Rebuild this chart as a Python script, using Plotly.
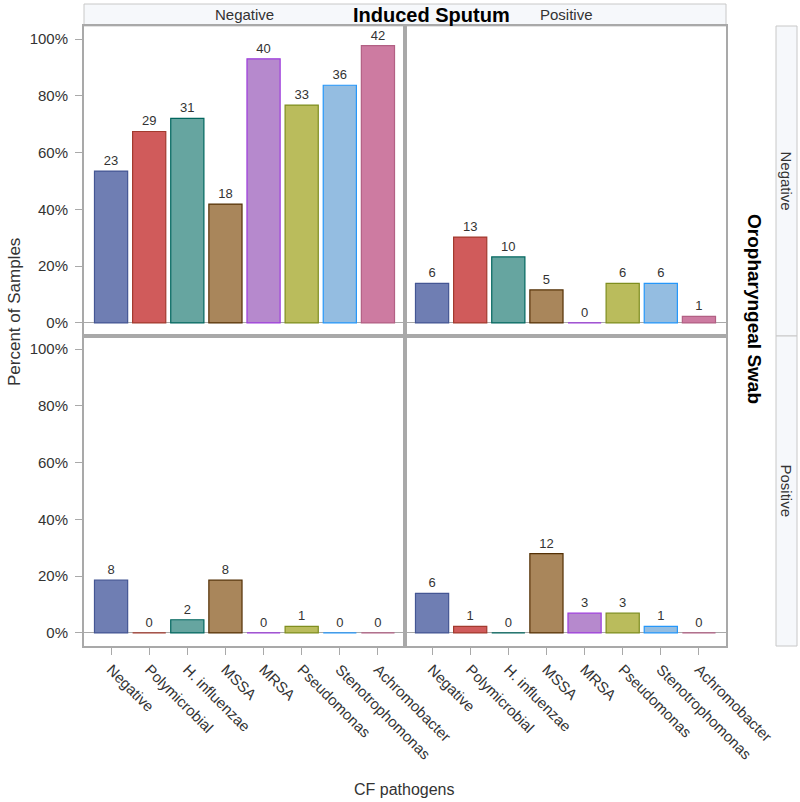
import plotly.graph_objects as go

categories = ["Negative", "Polymicrobial", "H. influenzae", "MSSA", "MRSA",
              "Pseudomonas", "Stenotrophomonas", "Achromobacter"]
# counts per panel: (Induced Sputum result, Oropharyngeal Swab result)
counts_is_neg_op_neg = [23, 29, 31, 18, 40, 33, 36, 42]
counts_is_pos_op_neg = [6, 13, 10, 5, 0, 6, 6, 1]
counts_is_neg_op_pos = [8, 0, 2, 8, 0, 1, 0, 0]
counts_is_pos_op_pos = [6, 1, 0, 12, 3, 3, 1, 0]
total_samples = 43
y_tick_values = [0, 20, 40, 60, 80, 100]
y_tick_labels = ["0%", "20%", "40%", "60%", "80%", "100%"]

fill_colors = ["#6F7EB3", "#D05B5B", "#66A5A0", "#A9865B",
               "#B689CD", "#BABC5C", "#94BDE1", "#CD7BA1"]
line_colors = ["#445694", "#A23A2E", "#01665E", "#543005",
               "#9D3CDB", "#7F8E1F", "#2597FA", "#B26084"]

FONT = "Liberation Sans, Arial, sans-serif"
fig = go.Figure()

panels = [
    (counts_is_neg_op_neg, "x", "y"),
    (counts_is_pos_op_neg, "x2", "y2"),
    (counts_is_neg_op_pos, "x3", "y3"),
    (counts_is_pos_op_pos, "x4", "y4"),
]
for cnts, xa, ya in panels:
    pct = [c / total_samples * 100 for c in cnts]
    fig.add_trace(go.Bar(
        x=categories, y=pct, xaxis=xa, yaxis=ya,
        marker=dict(color=fill_colors, line=dict(color=line_colors, width=1.2)),
        text=[str(c) for c in cnts], textposition="outside",
        textfont=dict(size=13, color="#333333", family=FONT),
        cliponaxis=False, showlegend=False, hoverinfo="skip",
    ))

W, H = 800, 802
L, R, T, B = 84, 74, 26, 156
pw = W - L - R
ph = H - T - B

def px(x):
    return (x - L) / pw

def py(y):
    return (H - B - y) / ph

axis_common = dict(showline=True, linecolor="#A9A9A9", linewidth=2, mirror=True,
                   showgrid=False)
xcommon = dict(axis_common, range=[-0.71, 7.71], ticks="outside", ticklen=7,
               tickcolor="#A9A9A9", tickangle=45,
               tickfont=dict(size=15, color="#333333", family=FONT))
ycommon = dict(axis_common, range=[-4.6, 104.6], tickmode="array",
               tickvals=y_tick_values, ticktext=y_tick_labels,
               ticks="outside", ticklen=7, tickcolor="#A9A9A9", ticklabelstandoff=4,
               zeroline=True, zerolinecolor="#A9A9A9", zerolinewidth=1,
               tickfont=dict(size=15, color="#333333", family=FONT))

fig.update_layout(
    width=W, height=H,
    margin=dict(l=L, r=R, t=T, b=B, autoexpand=False),
    plot_bgcolor="white", paper_bgcolor="white",
    bargap=0.13,
    font=dict(family=FONT, color="#333333"),
    xaxis=dict(xcommon, domain=[0, 0.5], anchor="y", showticklabels=False, ticks=""),
    xaxis2=dict(xcommon, domain=[0.5, 1], anchor="y2", showticklabels=False, ticks=""),
    xaxis3=dict(xcommon, domain=[0, 0.5], anchor="y3"),
    xaxis4=dict(xcommon, domain=[0.5, 1], anchor="y4"),
    yaxis=dict(ycommon, domain=[0.5, 1], anchor="x"),
    yaxis2=dict(ycommon, domain=[0.5, 1], anchor="x2", showticklabels=False, ticks=""),
    yaxis3=dict(ycommon, domain=[0, 0.5], anchor="x3"),
    yaxis4=dict(ycommon, domain=[0, 0.5], anchor="x4", showticklabels=False, ticks=""),
)

hdr_fill = "#F6F8FB"
hdr_line = dict(color="#C8C8C8", width=1)
shapes = [
    dict(type="rect", xref="paper", yref="paper", x0=px(84), x1=px(726),
         y0=py(26), y1=py(4), fillcolor=hdr_fill, line=hdr_line, layer="below"),
    dict(type="rect", xref="paper", yref="paper", x0=px(776), x1=px(797),
         y0=py(336), y1=py(26), fillcolor=hdr_fill, line=hdr_line, layer="below"),
    dict(type="rect", xref="paper", yref="paper", x0=px(776), x1=px(797),
         y0=py(646), y1=py(336), fillcolor=hdr_fill, line=hdr_line, layer="below"),
]
fig.update_layout(shapes=shapes)

ann = [
    dict(text="Negative", x=px(245), y=py(15), font=dict(size=15)),
    dict(text="Positive", x=px(566), y=py(15), font=dict(size=15)),
    dict(text="<b>Induced Sputum</b>", x=px(432), y=py(15), font=dict(size=20, color="#000000")),
    dict(text="Negative", x=px(786.5), y=py(181), textangle=90, font=dict(size=15)),
    dict(text="Positive", x=px(786.5), y=py(491), textangle=90, font=dict(size=15)),
    dict(text="<b>Oropharyngeal Swab</b>", x=px(755), y=py(309), textangle=90,
         font=dict(size=19, color="#000000")),
    dict(text="Percent of Samples", x=px(14), y=py(312), textangle=-90, font=dict(size=17)),
    dict(text="CF pathogens", x=px(404), y=py(789), font=dict(size=16)),
]
for a in ann:
    a.update(xref="paper", yref="paper", showarrow=False, xanchor="center", yanchor="middle")
fig.update_layout(annotations=ann)

fig.write_html("out.html", config={"displayModeBar": False},
               post_script="document.body.style.margin='0';document.body.style.overflow='hidden';")
